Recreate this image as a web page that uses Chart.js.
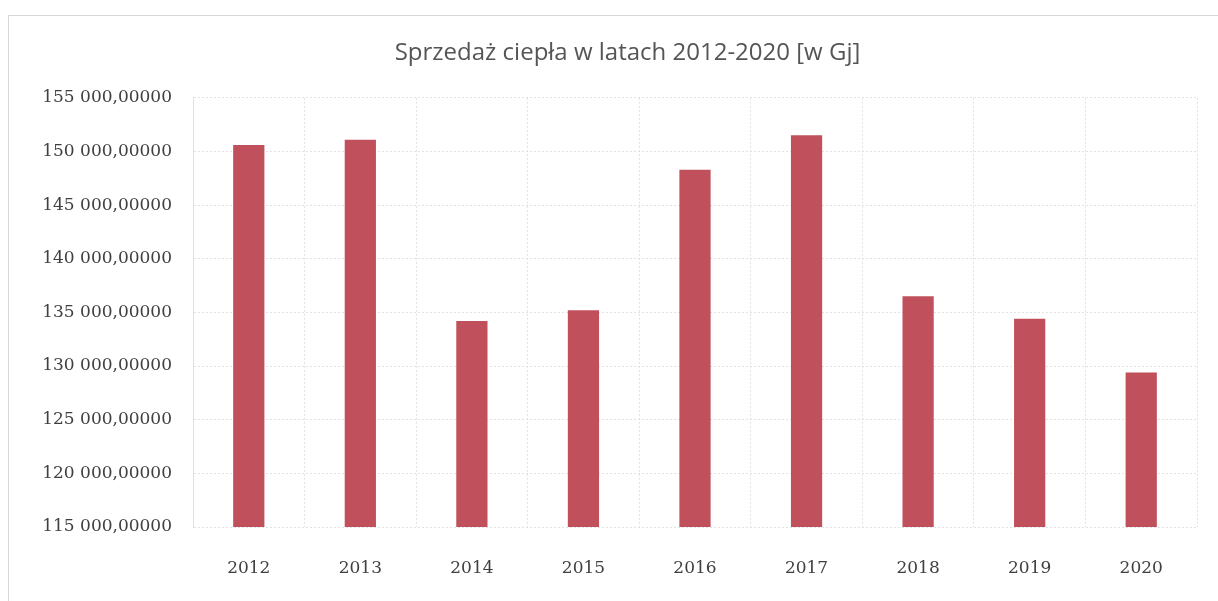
<!DOCTYPE html>
<html>
<head>
<meta charset="utf-8">
<script src="https://cdn.jsdelivr.net/npm/chart.js@4"></script>
<style>
  body { margin: 0; background: #fff; }
  #ramka { position: absolute; left: 8px; top: 15px; width: 1210px; height: 586px;
           border-left: 1px solid #d8d8d8; border-top: 1px solid #d8d8d8; }
  #wykres { position: absolute; left: 0; top: 0; }
</style>
</head>
<body>
<div id="ramka"></div>
<canvas id="wykres" width="1218" height="601"></canvas>
<script>
const lata = ['2012', '2013', '2014', '2015', '2016', '2017', '2018', '2019', '2020'];
const sprzedaz = [150600, 151100, 134200, 135200, 148300, 151500, 136500, 134400, 129400];
const osY = { min: 115000, max: 155000, krok: 5000 };
const tytul = 'Sprzedaż ciepła w latach 2012-2020 [w Gj]';

function formatuj(v) {
    const tys = Math.floor(v / 1000);
    const reszta = String(v % 1000).padStart(3, '0');
    return tys + ' ' + reszta + ',00000';
}

const ctx = document.getElementById('wykres').getContext('2d');

new Chart(ctx, {
    type: 'bar',
    data: {
        labels: lata,
        datasets: [{
            data: sprzedaz,
            backgroundColor: '#c0505c',
            categoryPercentage: 1,
            barPercentage: 0.28
        }]
    },
    options: {
        responsive: false,
        animation: false,
        layout: { padding: { left: 0, right: 21, top: 0, bottom: 0 } },
        plugins: {
            legend: { display: false },
            tooltip: { enabled: false },
            title: {
                display: true,
                text: tytul,
                color: '#555',
                font: { family: 'Open Sans', size: 24, weight: 'normal' },
                padding: { top: 39, bottom: 30 }
            }
        },
        scales: {
            x: {
                grid: { color: '#e2e2e2', drawTicks: false },
                border: { display: false, dash: [2, 2] },
                ticks: {
                    color: '#404040',
                    font: { family: 'DejaVu Serif', size: 17 },
                    padding: 31
                },
                afterFit: s => { s.height = 74; }
            },
            y: {
                min: osY.min,
                max: osY.max,
                grid: { color: '#e2e2e2', drawTicks: false },
                border: { color: '#e2e2e2', dash: [2, 2] },
                ticks: {
                    stepSize: osY.krok,
                    color: '#404040',
                    font: { family: 'DejaVu Serif', size: 17 },
                    padding: 21,
                    callback: v => formatuj(v)
                },
                afterFit: s => { s.width = 193; }
            }
        }
    },
    plugins: [{
        // tytul w oryginale jest troche na prawo od srodka
        id: 'przesunTytul',
        afterLayout(chart) {
            if (chart.titleBlock) chart.titleBlock.left = 58;
        }
    }]
});
</script>
</body>
</html>
